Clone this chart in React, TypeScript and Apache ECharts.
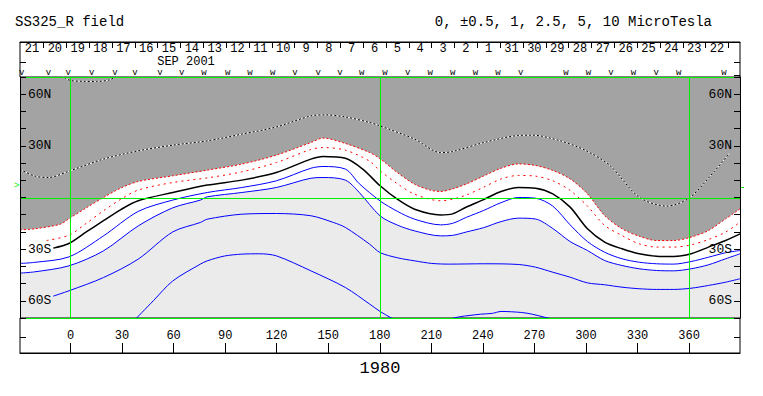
import React, { useEffect, useRef } from "react";
import * as echarts from "echarts";

// ---------- axis extents ----------
const LON_MIN = -29.39;
const LON_MAX = 389.67;
const LAT_MIN = -70;
const LAT_MAX = 70;

// ---------- tick labels ----------
const X_TICKS = [0, 30, 60, 90, 120, 150, 180, 210, 240, 270, 300, 330, 360];
const Y_TICKS = [-70, -60, -50, -40, -30, -20, -10, 0, 10, 20, 30, 40, 50, 60, 70];
const Y_LABELS = [-60, -30, 30, 60];
const GRID_LON = [0, 180, 360];
const GRID_LAT = [-70, 0, 70];
const DAYS = [21, 20, 19, 18, 17, 16, 15, 14, 13, 12, 11, 10, 9, 8, 7, 6, 5, 4, 3, 2, 1, 31, 30, 29, 28, 27, 26, 25, 24, 23, 22];
const DAY0_LON = -29.04;
const DAY_STEP = 13.29;
const MONTH_LABEL = "SEP 2001";
const YEAR_LABEL = "1980";
const TITLE = "SS325_R field";
const LEVELS = "0, \u00B10.5, 1, 2.5, 5, 10 MicroTesla";

// Earth-observation markers in header (longitude, glyph)
const MARK_LON = [-28.4, -12.9, -1.3, 12.3, 25.9, 37.5, 52.1, 64.7, 77.7, 91.5, 104.5, 117.7, 130.7, 144.2, 156.9, 169.5, 183.0, 196.2, 209.4, 222.5, 235.7, 248.8, 262.0, 288.3, 301.4, 314.6, 327.7, 340.9, 354.0, 380.4];
const MARK_GLYPH = ["v", "v", "v", "v", "v", "v", "v", "v", "w", "w", "w", "w", "v", "v", "v", "w", "w", "v", "w", "w", "w", "w", "v", "w", "w", "v", "w", "v", "w", "w"];

// ---------- contour lines [lon, lat] ----------
const BOUNDARY: number[][] = [[-29.4,-18.8],[-21,-18.2],[-5.9,-15.5],[-0.9,-12.3],[9.2,-6],[19.2,0],[29.3,5.5],[39.4,9.3],[59.5,12.6],[79.6,15.9],[99.7,19.4],[119.8,24.6],[139.9,31.9],[147,34.5],[160,31.4],[174.1,26.1],[180.2,22.5],[190.2,14.5],[200.3,7.7],[209.3,4.3],[215.4,3.5],[222.4,5],[230.5,7.9],[240.5,12.5],[250.6,17],[260.6,19.5],[270.7,18.6],[280.7,15.7],[290.8,10.8],[300.9,2.1],[310.9,-10.5],[321,-18.2],[331,-22.5],[341.1,-25],[351.1,-25],[361.2,-23],[371.3,-19.2],[381.3,-12.4],[389.7,-6.6]];
const POS_HALF: number[][] = [[-13.9,-25],[-0.9,-21.9],[9.2,-15],[19.2,-7.7],[29.3,-1],[39.4,4.3],[59.5,8.7],[79.6,11.4],[99.7,14.9],[119.8,20.3],[139.9,27.9],[147,29],[160,27.5],[174.1,21.1],[180.2,15.5],[190.2,8],[200.3,1.9],[215.4,-1.9],[222.4,-1],[230.5,1.5],[240.5,6],[250.6,10.8],[260.6,12.8],[270.7,12.4],[280.7,9.7],[290.8,4.1],[300.9,-5],[310.9,-16.2],[321,-22.1],[331,-26.9],[341.1,-28.8],[351.1,-28.8],[361.2,-27.5],[371.3,-24.4],[381.3,-20.1],[389.7,-14.3]];
const ZERO: number[][] = [[-10,-29.4],[-0.9,-26.7],[9.2,-20],[19.2,-13.5],[29.3,-7],[39.4,-1.9],[59.5,2.9],[79.6,7.2],[99.7,10.1],[119.8,14.5],[139.9,22.3],[147,23.8],[160,22.8],[170.1,16.5],[180.2,6.8],[190.2,-1],[200.3,-6.8],[215.4,-10.1],[222.4,-9.5],[230.5,-5.5],[240.5,-1.2],[250.6,3.5],[260.6,5.8],[270.7,5.4],[280.7,2.1],[290.8,-5.6],[300.9,-18.2],[310.9,-25.9],[321,-29.8],[331,-32.7],[341.1,-34.1],[351.1,-34.3],[361.2,-32.7],[371.3,-28.8],[381.3,-25],[389.7,-21.1]];
const NEG_1: number[][] = [[-29.4,-38.3],[-21,-37.7],[-0.9,-34.5],[19.2,-22.3],[39.4,-8.1],[59.5,-1.5],[79.6,2.9],[99.7,5.8],[119.8,9.7],[139.9,17],[147,18],[160,16.5],[168.1,8],[180.2,-2],[190.2,-8],[200.3,-12.6],[215.4,-15.9],[222.4,-15],[230.5,-11.5],[240.5,-7.5],[250.6,-3],[260.6,0],[270.7,-0.4],[280.7,-5],[290.8,-15.9],[300.9,-25.6],[310.9,-31.8],[321,-35.6],[331,-37.6],[341.1,-38.5],[351.1,-38.7],[361.2,-37.2],[371.3,-34.7],[381.3,-32.1],[389.7,-30.8]];
const NEG_2: number[][] = [[-29.4,-43.9],[-21,-43.2],[-0.9,-39.7],[19.2,-31],[39.4,-16.5],[59.5,-6],[75.6,-1.5],[79.6,0.4],[99.7,2.9],[119.8,5.8],[139.9,11.2],[147,11.6],[160,10.1],[168.1,2.9],[180.2,-10.7],[190.2,-16],[200.3,-19.4],[215.4,-22.3],[222.4,-22],[230.5,-20],[240.5,-17.5],[250.6,-14],[260.6,-12],[270.7,-12.5],[280.7,-18],[290.8,-25.6],[300.9,-30.8],[310.9,-36.6],[321,-39.5],[331,-41.4],[341.1,-42.4],[351.1,-42.6],[361.2,-41.4],[371.3,-39.1],[381.3,-35.6],[389.7,-32.7]];
const NEG_3: number[][] = [[-10,-57.3],[-0.9,-54.2],[19.2,-46.5],[39.4,-35.8],[59.5,-20],[75.6,-14.5],[79.6,-12.6],[99.7,-9.7],[119.8,-9.3],[139.9,-10.6],[153,-14.5],[160,-17.4],[174.1,-27.1],[180.2,-32],[190.2,-35],[200.3,-36.8],[210.3,-38.3],[220.4,-38.7],[240.5,-38.5],[260.6,-38.9],[270.7,-40.5],[280.7,-43.4],[290.8,-46.3],[300.9,-49.6],[310.9,-50.7],[321,-52.1],[331,-53],[341.1,-53.4],[351.1,-53.4],[361.2,-52.7],[371.3,-51.1],[381.3,-49.2],[389.7,-47.2]];
const NEG_4: number[][] = [[37.5,-71],[48.2,-60],[59.5,-48.5],[75.6,-38.7],[79.6,-36.8],[89.6,-34],[99.7,-32.9],[109.8,-32.7],[119.8,-33.9],[139.9,-42.6],[160,-52.3],[174.1,-61.9],[180.2,-66.2],[186.2,-69.7],[190.2,-72]];
const NEG_5: number[][] = [[219.4,-71],[226.4,-69.3],[232.5,-68.5],[238.5,-67.8],[245.5,-67.3],[250.6,-66.2],[262.6,-66.8],[268.7,-67.8],[275.7,-69.5],[281.7,-71]];
const POS_HIGH: number[][] = [[-29.4,16.4],[-21,12.5],[-12.9,11.6],[-0.9,15.3],[19.2,22.3],[39.4,27.1],[59.5,30.4],[79.6,32.9],[99.7,36.8],[119.8,41],[139.9,47.4],[148,48],[160,46.8],[174.1,43.6],[180.2,41.6],[200.3,33.9],[215.4,26.1],[222.4,26.7],[240.5,31.9],[260.6,36],[268.7,36.2],[284.8,33],[299.9,27.3],[313.9,18.6],[331,0.2],[347.1,-5],[360.2,-0.2],[374.3,14.7],[383.3,25.4]];
const POS_TOP: number[][] = [[-5.4,71],[-0.4,68.1],[7.2,67.5],[15.2,67.4],[23.3,68.5],[27.3,71]];

const FONT = '"Liberation Mono", "DejaVu Sans Mono", monospace';
const GREEN = "#00f000";
const DARK = "#a3a3a3";
const LIGHT = "#ebebeb";

function line(data: any[], color: string, width: number, type: any, extra: any = {}) {
  return {
    type: "line",
    xAxisIndex: 0,
    yAxisIndex: 0,
    data,
    smooth: 0.3,
    symbol: "none",
    showSymbol: false,
    silent: true,
    lineStyle: { color, width, type },
    ...extra,
  };
}

const latFmt = (v: number) => (v === 0 ? "" : Math.abs(v) + (v > 0 ? "N" : "S"));

function sideAxis(gridIndex: number, position: string, min: number, max: number, ticks: number[], labels: number[] | null) {
  return {
    gridIndex, type: "value", position, min, max, z: 6,
    axisLine: { show: gridIndex === 0, onZero: false, lineStyle: { color: "#000" } },
    axisTick: { show: true, inside: true, length: 6, customValues: ticks, lineStyle: { color: "#000" } },
    axisLabel: labels
      ? { show: true, inside: true, margin: 8, customValues: labels, formatter: latFmt, color: "#000", fontSize: 13, fontFamily: FONT }
      : { show: false },
    splitLine: { show: false },
  };
}

function buildOption(): any {
  const dayTicks = DAYS.map((_, i) => DAY0_LON + (i + 1) * DAY_STEP).filter((v) => v < LON_MAX);
  const dayLabelPos = DAYS.map((_, i) => DAY0_LON + (i + 0.5) * DAY_STEP);
  const markData = MARK_LON.map((lon, i) => [lon, 0.115, i]);
  const gridLineData = [
    ...GRID_LON.map((v) => [v, LAT_MIN, v, LAT_MAX]),
    ...GRID_LAT.map((v) => [LON_MIN, v, LON_MAX, v]),
  ];

  return {
    animation: false,
    backgroundColor: "#ffffff",
    textStyle: { fontFamily: FONT },
    grid: [
      { left: 20, right: 23, top: 77, bottom: 78, show: true, backgroundColor: LIGHT, borderWidth: 0 },
      { left: 20, right: 23, top: 42, height: 35, show: true, backgroundColor: "#fff", borderColor: "#000", borderWidth: 1 },
      { left: 20, right: 23, top: 318, height: 35, show: true, backgroundColor: "#fff", borderColor: "#000", borderWidth: 1 },
    ],
    xAxis: [
      {
        gridIndex: 0, type: "value", min: LON_MIN, max: LON_MAX,
        axisLine: { show: false, onZero: false }, axisTick: { show: false }, axisLabel: { show: false }, splitLine: { show: false },
      },
      {
        gridIndex: 1, type: "value", position: "top", min: LON_MIN, max: LON_MAX,
        axisLine: { show: true, onZero: false, lineStyle: { color: "#000" } },
        axisTick: { show: true, inside: true, length: 6, customValues: dayTicks, lineStyle: { color: "#000" } },
        axisLabel: {
          show: true, inside: true, margin: 1, customValues: dayLabelPos, color: "#000", fontSize: 12, fontFamily: FONT,
          formatter: (v: number) => {
            const i = Math.round((v - DAY0_LON) / DAY_STEP - 0.5);
            return DAYS[i] !== undefined ? String(DAYS[i]) : "";
          },
        },
        splitLine: { show: false },
      },
      {
        gridIndex: 2, type: "value", position: "bottom", min: LON_MIN, max: LON_MAX,
        axisLine: { show: true, onZero: false, lineStyle: { color: "#000" } },
        axisTick: { show: true, inside: true, length: 10, customValues: X_TICKS, lineStyle: { color: "#000" } },
        axisLabel: { show: true, inside: true, margin: 11, customValues: X_TICKS, color: "#000", fontSize: 12, fontFamily: FONT },
        splitLine: { show: false },
        name: YEAR_LABEL, nameLocation: "middle", nameGap: 7,
        nameTextStyle: { fontSize: 17, fontFamily: FONT, color: "#000", verticalAlign: "top" },
      },
      {
        gridIndex: 1, type: "value", position: "bottom", min: LON_MIN, max: LON_MAX,
        axisLine: { show: false, onZero: false }, axisTick: { show: false }, axisLabel: { show: false }, splitLine: { show: false },
      },
    ],
    yAxis: [
      sideAxis(0, "left", LAT_MIN, LAT_MAX, Y_TICKS, Y_LABELS),
      sideAxis(0, "right", LAT_MIN, LAT_MAX, Y_TICKS, Y_LABELS),
      sideAxis(1, "left", 0, 1, [0.43], null),
      sideAxis(1, "right", 0, 1, [0.43, 0.06], null),
      sideAxis(2, "left", 0, 1, [0.46], null),
      sideAxis(2, "right", 0, 1, [0.46], null),
    ],
    graphic: [
      { type: "text", x: 15, y: 22, style: { text: TITLE, font: `14px ${FONT}`, fill: "#000", verticalAlign: "middle" } },
      { type: "text", x: 712, y: 22, style: { text: LEVELS, font: `14px ${FONT}`, fill: "#000", align: "right", verticalAlign: "middle" } },
      { type: "text", x: 186, y: 61.5, style: { text: MONTH_LABEL, font: `12px ${FONT}`, fill: "#000", align: "center", verticalAlign: "middle" } },
      { type: "text", x: 14, y: 186, style: { text: ">", font: `9px ${FONT}`, fill: GREEN, verticalAlign: "middle" } },
      { type: "line", shape: { x1: 740, y1: 187.5, x2: 744, y2: 187.5 }, style: { stroke: GREEN, lineWidth: 1 } },
    ],
    series: [
      line(NEG_2, "#0000ff", 1, "solid", { areaStyle: { color: "#ffffff", opacity: 1, origin: "end" } }),
      line(BOUNDARY, "#ff0000", 1, [2, 2], { areaStyle: { color: DARK, opacity: 1, origin: "end" } }),
      line(POS_HIGH, "#ffffff", 1, "solid"),
      line(POS_HIGH, "#000000", 1, [2, 2]),
      line(POS_TOP, "#ffffff", 1, "solid"),
      line(POS_TOP, "#000000", 1, [2, 2]),
      line(POS_HALF, "#ff0000", 1, [2, 4]),
      line(ZERO, "#000000", 1.5, "solid"),
      line(NEG_1, "#0000ff", 1, "solid"),
      line(NEG_3, "#0000ff", 1, "solid"),
      line(NEG_4, "#0000ff", 1, "solid"),
      line(NEG_5, "#0000ff", 1, "solid"),
      {
        type: "custom",
        xAxisIndex: 0,
        yAxisIndex: 0,
        data: gridLineData,
        silent: true,
        clip: false,
        z: 4,
        renderItem: (params: any, api: any) => {
          const a = api.coord([api.value(0), api.value(1)]);
          const b = api.coord([api.value(2), api.value(3)]);
          const vertical = Math.abs(a[0] - b[0]) < 0.01;
          const sx = (v: number) => Math.floor(v + 0.3) + 0.5;
          const sy = (v: number) => Math.floor(v + 0.6) + 0.5;
          const shape = vertical
            ? { x1: sx(a[0]), y1: a[1], x2: sx(b[0]), y2: b[1] }
            : { x1: a[0], y1: sy(a[1]), x2: b[0], y2: sy(b[1]) };
          return { type: "line", shape, style: { stroke: GREEN, lineWidth: 1 } };
        },
      },
      {
        type: "custom",
        xAxisIndex: 3,
        yAxisIndex: 2,
        data: markData,
        silent: true,
        renderItem: (params: any, api: any) => {
          const p = api.coord([api.value(0), api.value(1)]);
          return {
            type: "text",
            x: p[0],
            y: p[1],
            style: { text: MARK_GLYPH[params.dataIndex], fill: "#000", font: `9px ${FONT}`, align: "center", verticalAlign: "middle" },
          };
        },
      },
    ],
  };
}

export default function App() {
  const ref = useRef<HTMLDivElement>(null);
  useEffect(() => {
    if (!ref.current) return;
    const chart = echarts.init(ref.current, null, { renderer: "svg" });
    chart.setOption(buildOption());
    return () => chart.dispose();
  }, []);
  return (
    <div
      ref={ref}
      style={{ position: "absolute", left: 0, top: 0, width: 763, height: 396, background: "#fff" }}
    />
  );
}
